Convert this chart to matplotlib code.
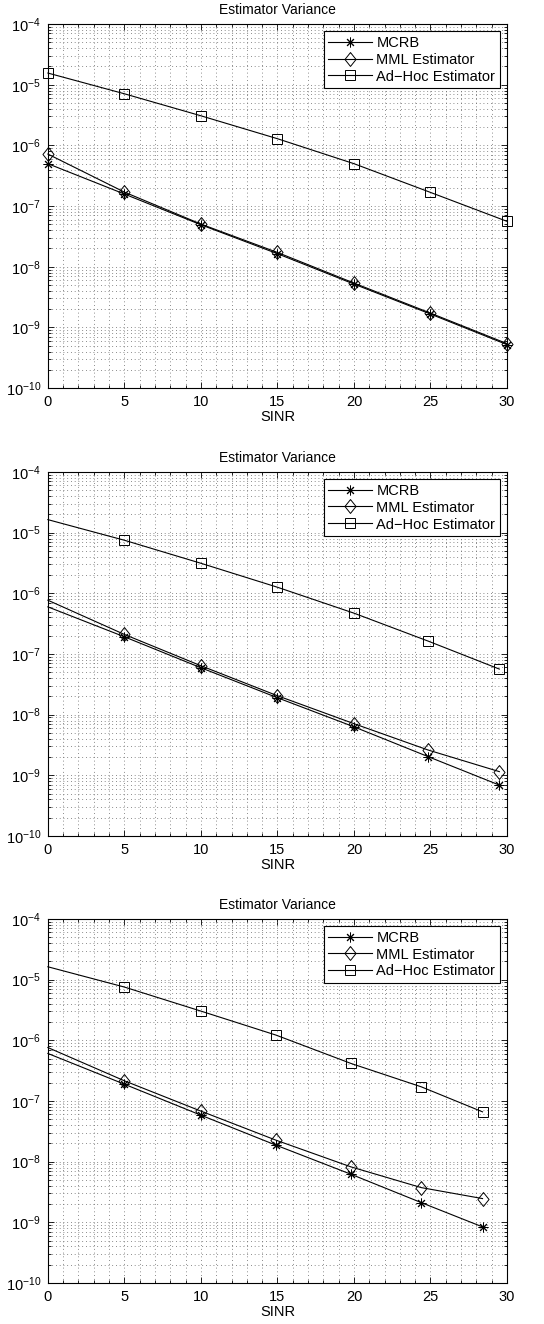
import matplotlib
matplotlib.use('Agg')
import matplotlib.pyplot as plt
from matplotlib.ticker import FixedLocator, MultipleLocator, NullFormatter

plt.rcParams['font.family'] = ['Liberation Sans', 'DejaVu Sans']
plt.rcParams['mathtext.default'] = 'regular'

# panel 1
sinr_1 = [0, 5, 10, 15, 20, 25, 30]
mcrb_1 = [5.0e-7, 1.58e-7, 4.92e-8, 1.64e-8, 5.18e-9, 1.66e-9, 5.2e-10]
mml_1 = [7.2e-7, 1.70e-7, 5.05e-8, 1.72e-8, 5.38e-9, 1.72e-9, 5.4e-10]
adhoc_1 = [1.56e-5, 7.1e-6, 3.08e-6, 1.29e-6, 5.0e-7, 1.68e-7, 5.6e-8]

# panel 2
sinr_2 = [0, 5, 10, 15, 20, 24.85, 29.5]
mcrb_2 = [5.98e-7, 1.92e-7, 5.93e-8, 1.90e-8, 6.3e-9, 2.03e-9, 6.9e-10]
mml_2 = [7.7e-7, 2.10e-7, 6.4e-8, 2.05e-8, 7.1e-9, 2.61e-9, 1.15e-9]
adhoc_2 = [1.64e-5, 7.5e-6, 3.13e-6, 1.26e-6, 4.71e-7, 1.63e-7, 5.64e-8]

# panel 3
sinr_3 = [0, 5, 10, 14.9, 19.8, 24.4, 28.4]
mcrb_3 = [6.07e-7, 1.89e-7, 5.83e-8, 1.87e-8, 6.2e-9, 2.11e-9, 8.4e-10]
mml_3 = [7.6e-7, 2.15e-7, 6.8e-8, 2.26e-8, 8.2e-9, 3.73e-9, 2.46e-9]
adhoc_3 = [1.63e-5, 7.55e-6, 3.03e-6, 1.22e-6, 4.16e-7, 1.71e-7, 6.62e-8]

labels = ['MCRB', 'MML Estimator', 'Ad\u2212Hoc Estimator']
decades = [-10, -9, -8, -7, -6, -5, -4]

panels = [
    (sinr_1, mcrb_1, mml_1, adhoc_1, None),
    (sinr_2, mcrb_2, mml_2, adhoc_2, slice(1, None)),
    (sinr_3, mcrb_3, mml_3, adhoc_3, slice(1, None)),
]
bottoms = [0.7069, 0.3686, 0.031]

# matlab style diamond, a bit narrower than tall
diamond = [(0, 1), (0.8, 0), (0, -1), (-0.8, 0), (0, 1)]


def draw_panel(fig, bottom, sinr, mcrb, mml, adhoc, mev):
    ax = fig.add_axes([0.088, bottom, 0.844, 0.2749])
    kw = dict(color='black', lw=0.8, markevery=mev, clip_on=False, zorder=3)
    ax.plot(sinr, mcrb, marker=(8, 2, 0), ms=7, mew=0.7, label=labels[0], **kw)
    ax.plot(sinr, mml, marker=diamond, ms=10, mfc='none', mew=0.7, label=labels[1], **kw)
    ax.plot(sinr, adhoc, marker='s', ms=7, mfc='none', mew=0.7, label=labels[2], **kw)
    ax.set_yscale('log')
    ax.set_xlim(0, 30)
    ax.set_ylim(1e-10, 1e-4)
    ax.xaxis.set_major_locator(MultipleLocator(5))
    ax.xaxis.set_minor_locator(MultipleLocator(1))
    ax.yaxis.set_major_locator(FixedLocator([10.0 ** d for d in decades]))
    minors = [k * 10.0 ** d for d in decades[:-1] for k in range(2, 10)]
    ax.yaxis.set_minor_locator(FixedLocator(minors))
    ax.yaxis.set_minor_formatter(NullFormatter())
    ax.grid(True, which='both', color='0.4', ls=(0, (1, 3.5)), lw=0.6)
    ax.tick_params(which='both', direction='in', top=True, right=True,
                   labelsize=10.5, width=0.6)
    ax.tick_params(which='major', length=4, pad=5)
    ax.tick_params(which='minor', length=2)
    for s in ax.spines.values():
        s.set_linewidth(0.8)
    ax.set_title('Estimator Variance', fontsize=10, pad=7)
    ax.set_xlabel('SINR', fontsize=10.5, labelpad=1)
    leg = ax.legend(loc='upper right', fontsize=10.5, handlelength=3,
                    fancybox=False, framealpha=1, edgecolor='black',
                    borderaxespad=0.5, labelspacing=0.2, handletextpad=0.3,
                    borderpad=0.3)
    leg.get_frame().set_linewidth(0.8)
    return ax


def main():
    fig = plt.figure(figsize=(5.44, 13.24), dpi=100)
    for b, (sinr, mcrb, mml, adhoc, mev) in zip(bottoms, panels):
        draw_panel(fig, b, sinr, mcrb, mml, adhoc, mev)
    fig.savefig('out.png', dpi=100)


if __name__ == '__main__':
    main()
